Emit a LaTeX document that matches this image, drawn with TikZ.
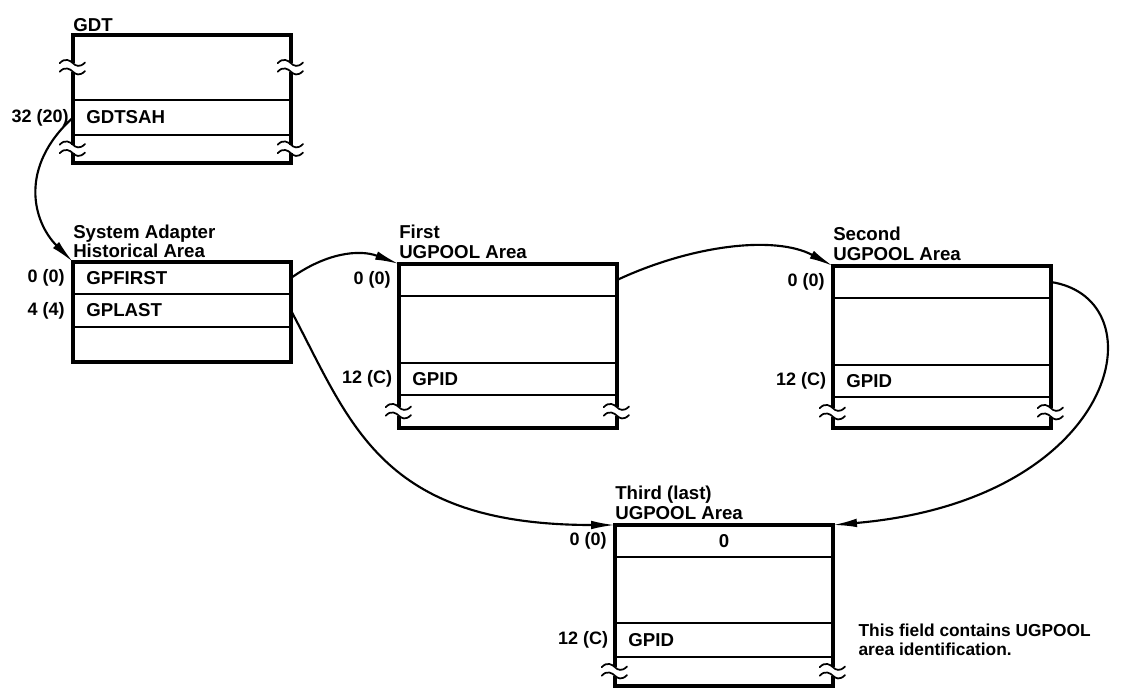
\documentclass[tikz,border=0pt]{standalone}
\usepackage{fontspec}
\setmainfont{Liberation Sans}
\usepackage{tikz}
\usetikzlibrary{arrows.meta, positioning}

\tikzset{
  brk/.pic={
    \fill[white] (-2.8pt,-3.2pt) rectangle (2.8pt,3.2pt);
    \foreach \dy in {-3.2pt,3.2pt}
      \draw[line width=1.3pt, line cap=round] (-10pt,\dy) .. controls (-6pt,\dy+4.5pt) and (-2pt,\dy+2pt) .. (0pt,\dy) .. controls (2pt,\dy-2pt) and (5pt,\dy-3.5pt) .. (9pt,\dy+0.5pt);
  }
}

\begin{document}
\begin{tikzpicture}[
    x=0.75pt, y=-0.75pt,
    cell/.style={draw, line width=1.5pt, minimum width=163.5pt, text width=143.5pt, inner xsep=10pt, inner ysep=0pt, outer sep=0pt, align=left, font=\fontsize{14}{16}\selectfont\bfseries},
    frame/.style={line width=2.3pt},
    title/.style={inner sep=0pt, align=left, font=\fontsize{14}{14.5}\selectfont\bfseries},
    offset/.style={inner sep=0pt, font=\fontsize{13.5}{16}\selectfont\bfseries},
    note/.style={inner sep=0pt, align=left, font=\fontsize{13}{14.3}\selectfont\bfseries},
    link/.style={line width=1.6pt, -{Latex[length=18pt,width=6.5pt]}},
]
\useasboundingbox (0,0) rectangle (1121,696);

% GDT
\node[cell, anchor=north west, minimum height=48.75pt] (gdt1) at (73,35) {};
\node[cell, below=0pt of gdt1, minimum height=26.25pt] (gdt2) {GDTSAH};
\node[cell, below=0pt of gdt2, minimum height=21pt] (gdt3) {};
\draw[frame] (gdt1.north west) rectangle (gdt3.south east);
\node[title, above right=2pt and 0pt of gdt1.north west] {GDT};
\node[offset, left=3pt of gdt2.west] {32 (20)};

% system adapter historical area
\node[cell, anchor=north west, minimum height=24pt] (saha1) at (73,262) {GPFIRST};
\node[cell, below=0pt of saha1, minimum height=24.75pt] (saha2) {GPLAST};
\node[cell, below=0pt of saha2, minimum height=26.25pt] (saha3) {};
\draw[frame] (saha1.north west) rectangle (saha3.south east);
\node[title, above right=3pt and 0pt of saha1.north west] {System Adapter\\Historical Area};
\node[offset, left=6pt of saha1.west] {0 (0)};
\node[offset, left=6pt of saha2.west] {4 (4)};

% first UGPOOL area
\node[cell, anchor=north west, minimum height=24pt] (first1) at (399,264) {};
\node[cell, below=0pt of first1, minimum height=50.25pt] (first2) {};
\node[cell, below=0pt of first2, minimum height=24pt] (first3) {GPID};
\node[cell, below=0pt of first3, minimum height=24.75pt] (first4) {};
\draw[frame] (first1.north west) rectangle (first4.south east);
\node[title, above right=4pt and 0pt of first1.north west] {First\\UGPOOL Area};
\node[offset, left=6pt of first1.west] {0 (0)};
\node[offset, left=5pt of first3.west] {12 (C)};

% second UGPOOL area
\node[cell, anchor=north west, minimum height=24pt] (second1) at (833,266) {};
\node[cell, below=0pt of second1, minimum height=50.25pt] (second2) {};
\node[cell, below=0pt of second2, minimum height=24pt] (second3) {GPID};
\node[cell, below=0pt of second3, minimum height=23.25pt] (second4) {};
\draw[frame] (second1.north west) rectangle (second4.south east);
\node[title, above right=4pt and 0pt of second1.north west] {Second\\UGPOOL Area};
\node[offset, left=6pt of second1.west] {0 (0)};
\node[offset, left=5pt of second3.west] {12 (C)};

% third (last) UGPOOL area
\node[cell, anchor=north west, minimum height=24pt, align=center] (third1) at (615,525) {0};
\node[cell, below=0pt of third1, minimum height=49.5pt] (third2) {};
\node[cell, below=0pt of third2, minimum height=25.5pt] (third3) {GPID};
\node[cell, below=0pt of third3, minimum height=21.75pt] (third4) {};
\draw[frame] (third1.north west) rectangle (third4.south east);
\node[title, above right=4pt and 0pt of third1.north west] {Third (last)\\UGPOOL Area};
\node[offset, left=6pt of third1.west] {0 (0)};
\node[offset, left=5pt of third3.west] {12 (C)};
\node[note, right=19pt of third3.east] {This field contains UGPOOL\\area identification.};

% breaks
\foreach \b in {gdt1, gdt3, first4, second4, third4} {
  \pic at (\b.west) {brk};
  \pic at (\b.east) {brk};
}

% pointers
\draw[link] (gdt2.west) .. controls +(-55,50) and +(-40,-40) .. (saha1.north west);
\draw[link] (saha1.east) .. controls +(35,-25) and +(-40,-15) .. (first1.north west);
\draw[link] (first1.east) .. controls +(75,-35) and +(-58,-31) .. (second1.north west);
\draw[link] (second1.east) .. controls +(110,17) and +(287,-25) .. (third1.north east);
\draw[link] (saha2.east) .. controls +(60,113) and +(-235,0) .. (third1.north west);

\end{tikzpicture}
\end{document}
